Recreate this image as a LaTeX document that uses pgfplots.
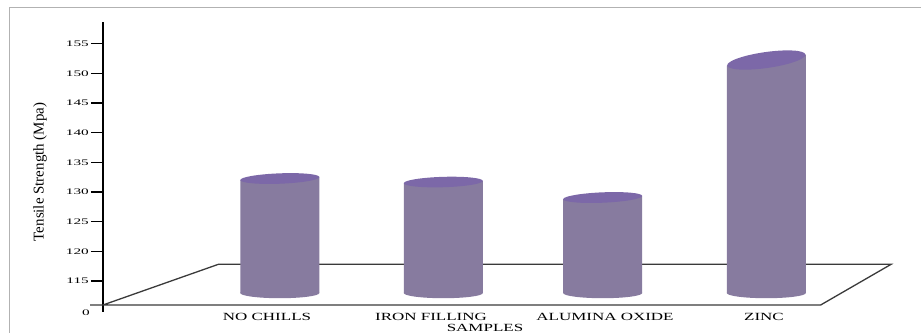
\documentclass[border=0pt]{standalone}
\usepackage{pgfplots}
\pgfplotsset{compat=1.18}
\usepackage{fontspec}
\setmainfont{Liberation Serif}
\newfontfamily\tickfont[FakeStretch=1.8]{Liberation Serif}
\newfontfamily\catfont[FakeStretch=1.55]{Liberation Serif}
\definecolor{cylbody}{HTML}{877B9F}
\definecolor{cyltop}{HTML}{7C68A8}
\definecolor{floorline}{HTML}{3A3A3A}
\pgfdeclareplotmark{ellS}{\pgfpathellipse{\pgfpointorigin}{\pgfpoint{39.5bp}{0bp}}{\pgfpoint{0bp}{5.2bp}}\pgfusepath{fill}}
\pgfdeclareplotmark{ellL}{\pgfpathellipse{\pgfpointorigin}{\pgfpoint{39.5bp}{0bp}}{\pgfpoint{0bp}{8bp}}\pgfusepath{fill}}
\begin{document}
\begin{tikzpicture}
\useasboundingbox (-103bp,-21.3bp) rectangle (818bp,311.7bp);
\begin{axis}[
 at={(0,0)}, anchor=south west,
 scale only axis, width=787bp, height=290bp,
 xmin=-1.0925, xmax=3.7596, ymin=109.83, ymax=158.70,
 axis lines*=left,
 x axis line style={draw=none},
 y axis line style={line width=2.2bp, black},
 clip=false,
 major x tick style={draw=none},
 xtick={-0.0814,0.9297,2.0025,2.9827},
 xticklabels={NO CHILLS, IRON FILLING, ALUMINA OXIDE, ZINC},
 xticklabel style={font=\catfont\fontsize{11}{13}\selectfont, anchor=base, inner sep=0pt, yshift=3.7bp},
 ytick={115,120,...,155},
 yticklabels={115,120,125,130,135,140,145,150,155},
 extra y ticks={109.9}, extra y tick labels={0},
 extra y tick style={major tick length=0pt, yticklabel style={yshift=-1bp, xshift=-11bp}},
 tick align=outside, major tick length=12bp,
 tick style={line width=1.3bp, black},
 yticklabel style={font=\tickfont\fontsize{8.5}{10}\selectfont, anchor=east, inner sep=0pt, xshift=-2bp},
 xlabel={SAMPLES},
 xlabel style={at={(axis description cs:0.4854,-0.0545)}, anchor=center, inner sep=0pt, font=\catfont\fontsize{11}{13}\selectfont},
 ylabel={Tensile Strength (Mpa)},
 ylabel style={at={(axis description cs:-0.080,0.4817)}, anchor=center, inner sep=0pt, font=\fontsize{15}{17}\selectfont},
]
% floor
\addplot[floorline, line width=1.3bp, mark=none] coordinates {(-1.1726,110.96) (3.332,110.96) (3.766,117.81) (-0.3816,117.81) (-1.0925,110.96)};
% bodies
\addplot[fill=cylbody, draw=none, mark=none] coordinates {(-0.2460,112.98) (-0.2460,132.01) (0.2410,132.53) (0.2410,112.98)} --cycle;
\addplot[fill=cylbody, draw=none, mark=none] coordinates {(0.7620,112.98) (0.7620,131.48) (1.2490,131.88) (1.2490,112.98)} --cycle;
\addplot[fill=cylbody, draw=none, mark=none] coordinates {(1.7448,112.98) (1.7448,128.79) (2.2318,129.35) (2.2318,112.98)} --cycle;
\addplot[fill=cylbody, draw=none, mark=none] coordinates {(2.7534,112.98) (2.7534,151.31) (3.2404,153.17) (3.2404,112.98)} --cycle;
% bottoms
\addplot[only marks, mark=ellS, color=cylbody] coordinates {(-0.0025,112.98) (1.0055,112.98) (1.9883,112.98) (2.9969,112.98)};
% tops
\addplot[only marks, mark=ellS, color=cyltop, mark options={rotate=2.2}] coordinates {(-0.0025,132.27)};
\addplot[only marks, mark=ellS, color=cyltop, mark options={rotate=1.7}] coordinates {(1.0055,131.68)};
\addplot[only marks, mark=ellS, color=cyltop, mark options={rotate=2.4}] coordinates {(1.9883,129.07)};
\addplot[only marks, mark=ellL, color=cyltop, mark options={rotate=8}] coordinates {(2.9969,152.24)};
\end{axis}
\draw[gray!60, line width=1bp] (-93bp,-21.3bp) -- (-93bp,304.4bp) -- (818bp,304.4bp);
\end{tikzpicture}
\end{document}
